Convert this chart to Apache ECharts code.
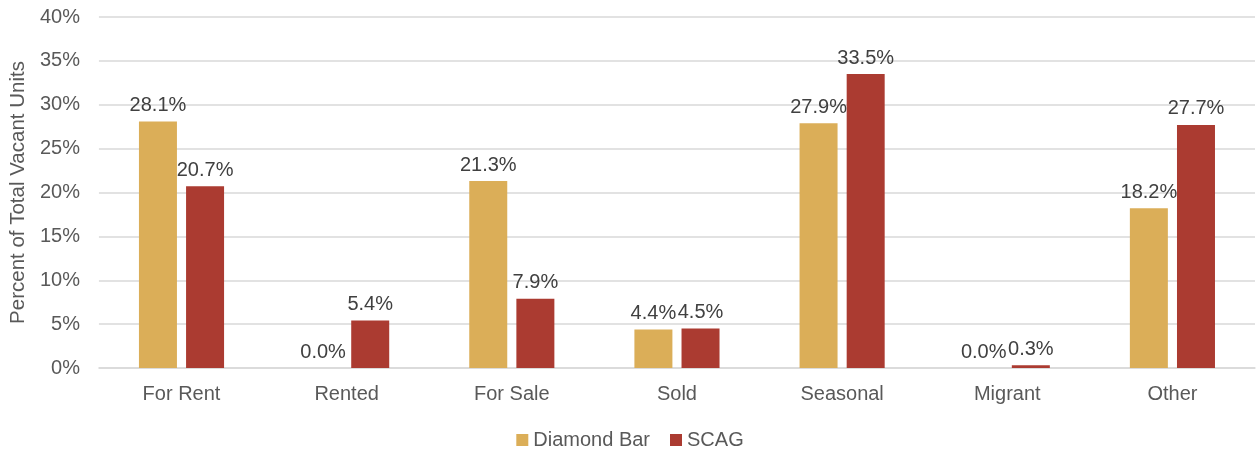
<!DOCTYPE html>
<html><head><meta charset="utf-8">
<script src="https://cdn.jsdelivr.net/npm/echarts@6/dist/echarts.min.js"></script>
<style>html,body{margin:0;padding:0;background:#fff}#c{width:1260px;height:453px}</style>
</head><body><div id="c"></div>
<script>
const categories = ["For Rent","Rented","For Sale","Sold","Seasonal","Migrant","Other"];
const diamondBar = [28.1,0.0,21.3,4.4,27.9,0.0,18.2];
const scag = [20.7,5.4,7.9,4.5,33.5,0.3,27.7];
const seriesNames = ["Diamond Bar","SCAG"];
const FONT = "Liberation Sans";
const chart = echarts.init(document.getElementById('c'));
const lbl = {show:true,position:'top',distance:6,color:'#404040',fontSize:20,fontFamily:FONT,formatter:p=>p.value.toFixed(1)+'%'};
chart.setOption({
  animation:false,
  textStyle:{fontFamily:FONT},
  grid:{left:97,right:5,top:17,bottom:85},
  legend:{bottom:3,padding:0,left:'center',itemWidth:12,itemHeight:12,itemGap:20,icon:'rect',
    textStyle:{color:'#595959',fontSize:20,fontFamily:FONT},data:seriesNames},
  xAxis:{type:'category',data:categories,axisTick:{show:false},
    axisLine:{lineStyle:{color:'#d9d9d9',width:1.5}},
    axisLabel:{color:'#595959',fontSize:20,fontFamily:FONT,margin:16}},
  yAxis:{type:'value',min:0,max:40,interval:5,
    name:'Percent of Total Vacant Units',nameLocation:'middle',nameGap:67,
    nameTextStyle:{color:'#595959',fontSize:20.5,fontFamily:FONT},
    axisLabel:{formatter:'{value}%',color:'#595959',fontSize:20,fontFamily:FONT,margin:19},
    splitLine:{lineStyle:{color:'#d9d9d9',width:1.5}}},
  series:[
    {name:seriesNames[0],type:'bar',data:diamondBar,barWidth:38,barGap:'24%',
     itemStyle:{color:'#DBAE58'},label:lbl},
    {name:seriesNames[1],type:'bar',data:scag,barWidth:38,
     itemStyle:{color:'#AB3B31'},label:lbl}
  ]
});
</script></body></html>
